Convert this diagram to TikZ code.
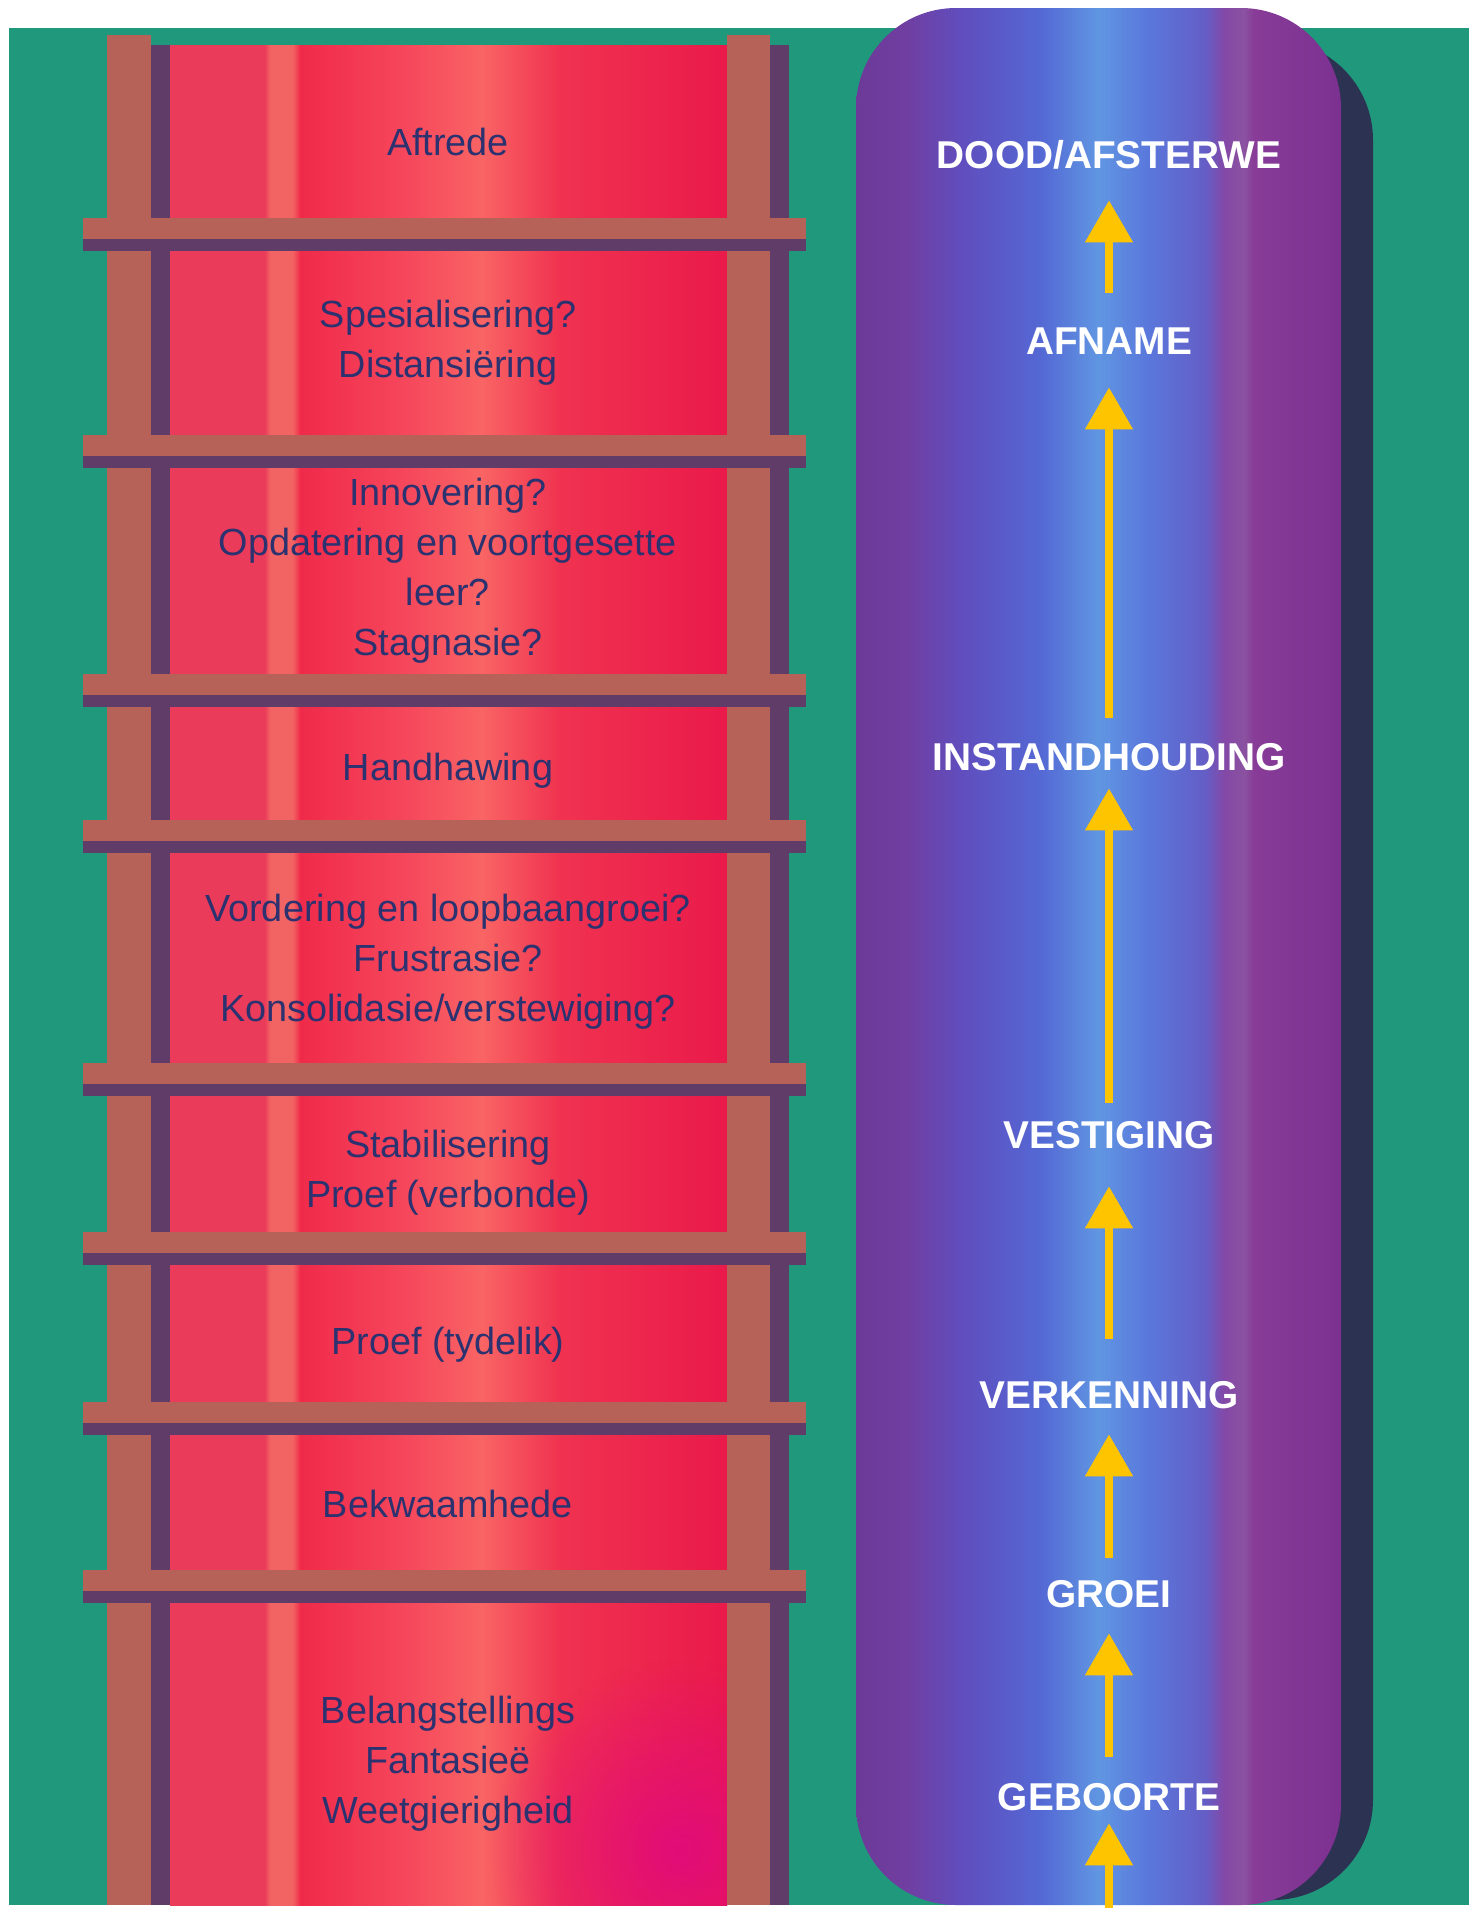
\documentclass[tikz,border=0pt]{standalone}
\usepackage{fontspec}
\setmainfont{Liberation Sans}
\usetikzlibrary{arrows.meta,fadings}

\definecolor{bggreen}{RGB}{32,152,124}
\definecolor{railbrown}{RGB}{182,98,88}
\definecolor{raildark}{RGB}{96,60,104}
\definecolor{inkblue}{RGB}{44,50,112}
\definecolor{arrowyellow}{RGB}{255,196,0}
\definecolor{capshadow}{RGB}{44,50,82}
\definecolor{blobmagenta}{RGB}{225,10,125}

% kleure vir die rooi paneel
\definecolor{rpA}{RGB}{234,60,90}
\definecolor{rpB}{RGB}{242,100,100}
\definecolor{rpC}{RGB}{240,42,74}
\definecolor{rpD}{RGB}{246,72,92}
\definecolor{rpE}{RGB}{249,100,100}
\definecolor{rpF}{RGB}{240,50,80}
\definecolor{rpG}{RGB}{234,26,74}
\pgfdeclarehorizontalshading{redpanel}{100bp}{
  color(0bp)=(rpA); color(25bp)=(rpA); color(33.5bp)=(rpA);
  color(34bp)=(rpB); color(36bp)=(rpB); color(36.7bp)=(rpC);
  color(46.5bp)=(rpD); color(53bp)=(rpE); color(60bp)=(rpF);
  color(75bp)=(rpG); color(100bp)=(rpG)}

% kleure vir die kapsule
\definecolor{cpA}{RGB}{108,58,152}
\definecolor{cpB}{RGB}{112,62,160}
\definecolor{cpC}{RGB}{96,78,190}
\definecolor{cpD}{RGB}{84,104,212}
\definecolor{cpE}{RGB}{96,150,226}
\definecolor{cpF}{RGB}{90,120,220}
\definecolor{cpG}{RGB}{100,94,198}
\definecolor{cpH}{RGB}{132,72,166}
\definecolor{cpI}{RGB}{138,82,160}
\definecolor{cpJ}{RGB}{136,60,152}
\definecolor{cpK}{RGB}{124,48,144}
\pgfdeclarehorizontalshading{capsule}{100bp}{
  color(0bp)=(cpA); color(25bp)=(cpA); color(30bp)=(cpB);
  color(36bp)=(cpC); color(44bp)=(cpD); color(50bp)=(cpE);
  color(55bp)=(cpF); color(61bp)=(cpG); color(63bp)=(cpH);
  color(65bp)=(cpI); color(66bp)=(cpJ); color(75bp)=(cpK);
  color(100bp)=(cpK)}

\tikzfading[name=softblob, inner color=transparent!0, outer color=transparent!100]

\begin{document}
\begin{tikzpicture}[x=0.5pt, y=-0.5pt,
    stage/.style={font=\fontsize{18.9}{25}\selectfont, text=inkblue, align=center, anchor=base, inner sep=0pt},
    phase/.style={font=\fontsize{19.4}{23}\selectfont\bfseries, text=white, text height=13.9pt, text depth=0pt, inner sep=0pt},
    up/.style={draw=arrowyellow, line width=4pt, -{Triangle[width=23pt,length=21pt]}}]

    % Agtergrond
    \useasboundingbox (0,0) rectangle (1481,1908);
    \fill[white] (0,0) rectangle (1481,1908);
    \fill[bggreen] (9,28) rectangle (1469,1905);

    % Leer
    \shade[shading=redpanel] (170,45) rectangle (727,1905);
    \begin{scope}
        \clip (170,45) rectangle (727,1905);
        \fill[blobmagenta, fill opacity=0.9, path fading=softblob] (680,1850) ellipse (190 and 190);
    \end{scope}
    \fill[railbrown] (107,35) rectangle (151,1905);
    \fill[raildark] (151,45) rectangle (170,1905);
    \fill[railbrown] (727,35) rectangle (770,1905);
    \fill[raildark] (770,45) rectangle (789,1905);
    \foreach \y in {218,435,674,820,1063,1232,1402,1570} {
        \fill[railbrown] (83,\y) rectangle (806,\y+21);
        \fill[raildark] (83,\y+21) rectangle (806,\y+33);
    }

    % Trappe (base = grondlyn van die laaste reël)
    \node[stage] (aftrede) at (448,155.5) {Aftrede};
    \node[stage] (spesialisering) at (448,377.5) {Spesialisering?\\Distansiëring};
    \node[stage] (innovering) at (448,655.5) {Innovering?\\Opdatering en voortgesette\\leer?\\Stagnasie?};
    \node[stage] (handhawing) at (448,780.5) {Handhawing};
    \node[stage] (vordering) at (448,1021.5) {Vordering en loopbaangroei?\\Frustrasie?\\Konsolidasie/verstewiging?};
    \node[stage] (stabilisering) at (448,1207.5) {Stabilisering\\Proef (verbonde)};
    \node[stage] (tydelik) at (448,1354.5) {Proef (tydelik)};
    \node[stage] (bekwaamhede) at (448,1517.5) {Bekwaamhede};
    \node[stage] (belangstellings) at (448,1823.5) {Belangstellings\\Fantasieë\\Weetgierigheid};

    % Kapsule
    \fill[capshadow, rounded corners=50pt] (890,40) rectangle (1373,1900);
    \shade[shading=capsule, rounded corners=50pt] (856,8) rectangle (1341,1905);

    % Fases
    \node[phase] (dood) at (1109,155) {DOOD/AFSTERWE};
    \node[phase] (afname) at (1109,340.5) {AFNAME};
    \node[phase] (instand) at (1109,756.5) {INSTANDHOUDING};
    \node[phase] (vestiging) at (1109,1135) {VESTIGING};
    \node[phase] (verkenning) at (1109,1395) {VERKENNING};
    \node[phase] (groei) at (1109,1594) {GROEI};
    \node[phase] (geboorte) at (1109,1797) {GEBOORTE};
    \coordinate (begin) at (1109,1908);

    % Pyle
    \draw[up, shorten <=16.8pt, shorten >=15.5pt] (afname.north) -- (dood.south);
    \draw[up, shorten <=12.3pt, shorten >=16.3pt] (instand.north) -- (afname.south);
    \draw[up, shorten <=9pt, shorten >=8.8pt] (vestiging.north) -- (instand.south);
    \draw[up, shorten <=21pt, shorten >=18.5pt] (verkenning.north) -- (vestiging.south);
    \draw[up, shorten <=11pt, shorten >=12.5pt] (groei.north) -- (verkenning.south);
    \draw[up, shorten <=13pt, shorten >=12.5pt] (geboorte.north) -- (groei.south);
    \draw[up, shorten >=6pt] (begin) -- (geboorte.south);
\end{tikzpicture}
\end{document}
